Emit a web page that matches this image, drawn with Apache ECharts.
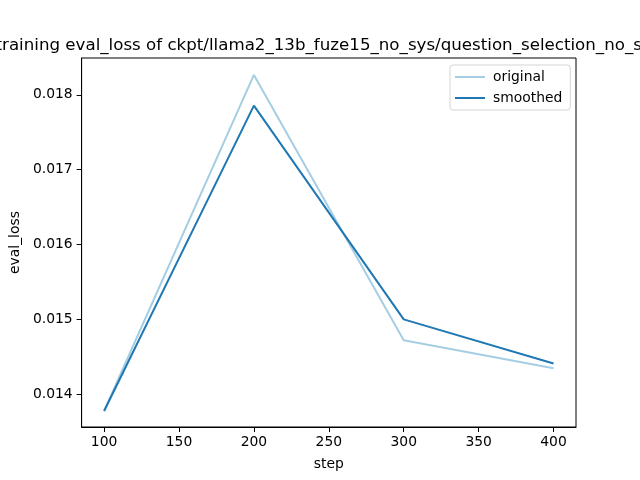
<!DOCTYPE html>
<html><head><meta charset="utf-8">
<script src="https://cdn.jsdelivr.net/npm/echarts@6/dist/echarts.min.js"></script>
<style>html,body{margin:0;padding:0;background:#fff}#c{width:640px;height:480px}</style>
</head><body><div id="c"></div>
<script>
const steps = [100, 200, 300, 400];
const original = [0.013777, 0.018265, 0.014722, 0.014347];
const smoothed = [0.013777, 0.017855, 0.015000, 0.014410];
const xTicks = [100, 150, 200, 250, 300, 350, 400];
const yTicks = [0.014, 0.015, 0.016, 0.017, 0.018];
const titleText = 'training eval_loss of ckpt/llama2_13b_fuze15_no_sys/question_selection_no_sys';
const seriesNames = ['original', 'smoothed'];

const F = 'DejaVu Sans';
const FS = 13.89;
const chart = echarts.init(document.getElementById('c'), null, {renderer: 'canvas'});
chart.setOption({
  animation: false,
  backgroundColor: '#fff',
  textStyle: {fontFamily: F},
  graphic: [{
    type: 'text', x: 328, y: 46,
    style: {text: titleText, fontFamily: F, fontSize: 16.67, fill: '#000', align: 'center', verticalAlign: 'middle'}
  }],
  grid: {left: 80, right: 64, top: 58, bottom: 53, show: true, borderColor: '#000', borderWidth: 1, backgroundColor: 'transparent'},
  legend: {
    orient: 'vertical', left: 450, top: 65,
    data: seriesNames,
    itemWidth: 30, itemHeight: 2, itemGap: 7,
    padding: [5, 8, 5, 4],
    borderColor: '#d5d5d5', borderWidth: 1, borderRadius: 3,
    backgroundColor: 'rgba(255,255,255,0.8)',
    textStyle: {fontFamily: F, fontSize: FS, color: '#000', padding: [0, 0, 0, 3]}
  },
  xAxis: {
    type: 'value', min: 85, max: 415,
    name: 'step', nameLocation: 'middle', nameGap: 30,
    nameTextStyle: {fontFamily: F, fontSize: FS, color: '#000'},
    axisLine: {show: true, onZero: false, lineStyle: {color: '#000', width: 1}},
    axisTick: {show: true, length: 5, lineStyle: {color: '#000'}, customValues: xTicks},
    axisLabel: {customValues: xTicks, fontFamily: F, fontSize: FS, color: '#000', margin: 8},
    splitLine: {show: false}
  },
  yAxis: {
    type: 'value', min: 0.013563, max: 0.018491,
    name: 'eval_loss', nameLocation: 'middle', nameGap: 53, nameRotate: 90,
    nameTextStyle: {fontFamily: F, fontSize: FS, color: '#000'},
    axisLine: {show: true, onZero: false, lineStyle: {color: '#000', width: 1}},
    axisTick: {show: true, length: 5, lineStyle: {color: '#000'}, customValues: yTicks},
    axisLabel: {customValues: yTicks, fontFamily: F, fontSize: FS, color: '#000', margin: 9,
      formatter: v => v.toFixed(3)},
    splitLine: {show: false}
  },
  series: [
    {name: seriesNames[0], type: 'line', symbol: 'none', data: steps.map((s, i) => [s, original[i]]),
     lineStyle: {color: '#a6cee3', width: 2}, itemStyle: {color: '#a6cee3'}},
    {name: seriesNames[1], type: 'line', symbol: 'none', data: steps.map((s, i) => [s, smoothed[i]]),
     lineStyle: {color: '#1f78b4', width: 2}, itemStyle: {color: '#1f78b4'}}
  ]
});
</script></body></html>
